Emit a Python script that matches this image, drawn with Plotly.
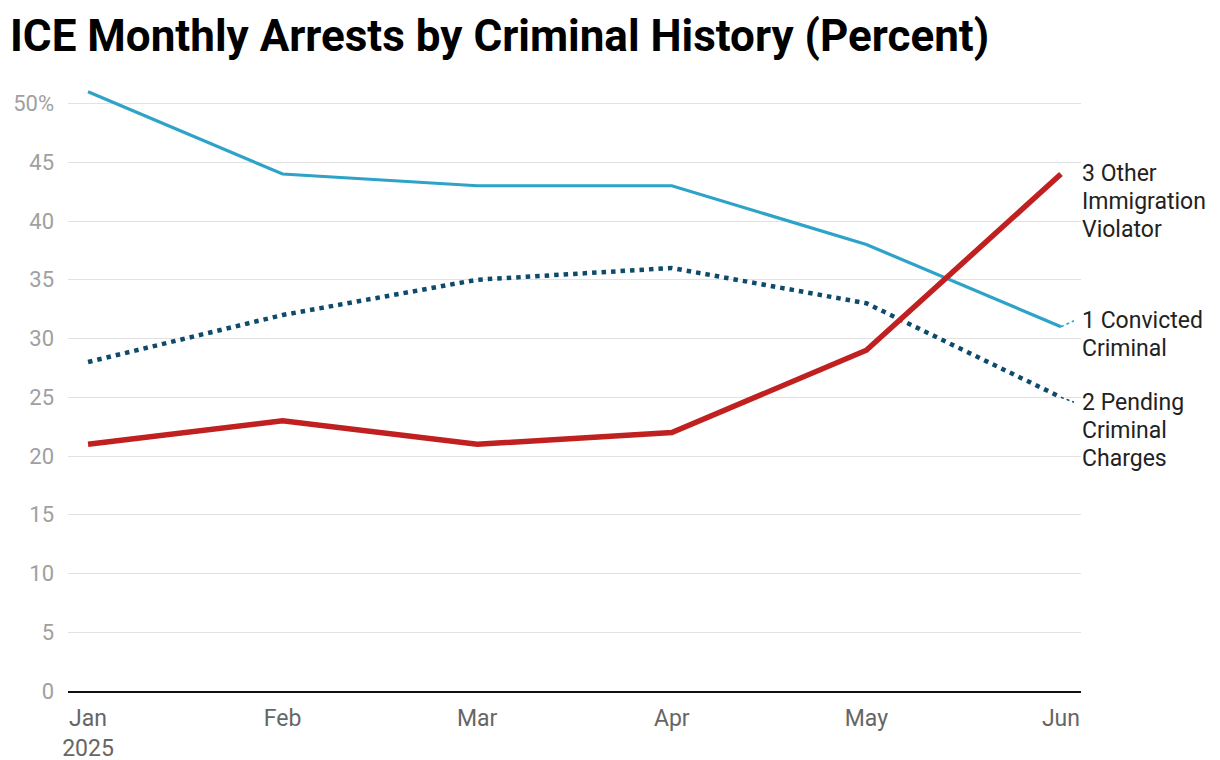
import plotly.graph_objects as go

months = ["Jan<br>2025", "Feb", "Mar", "Apr", "May", "Jun"]
convicted = [51, 44, 43, 43, 38, 31]
pending = [28, 32, 35, 36, 33, 25]
other = [21, 23, 21, 22, 29, 44]
y_ticks = [0, 5, 10, 15, 20, 25, 30, 35, 40, 45, 50]
y_tick_text = ["0", "5", "10", "15", "20", "25", "30", "35", "40", "45", "50%"]

series = [
    (["1 Convicted", "Criminal"], convicted, dict(color="#2ea3c8", width=3.2), 6),
    (["2 Pending", "Criminal", "Charges"], pending,
     dict(color="#0d4a6b", width=4.5, dash="4.5px,5px"), -5),
    (["3 Other", "Immigration", "Violator"], other, dict(color="#c0201f", width=5.5), 1),
]

x = list(range(len(months)))
fig = go.Figure()
PX_PER_UNIT = 611 / 52
PX_PER_X = 1013 / 5.206
for lines, vals, line, shift in series:
    fig.add_trace(go.Scatter(x=x, y=vals, mode="lines", line=line,
                             hoverinfo="skip", showlegend=False))
    for i, t in enumerate(lines):
        fig.add_annotation(x=x[-1], y=vals[-1], xref="x", yref="y", text=t,
                           showarrow=False, xanchor="left", yanchor="middle",
                           align="left", xshift=19, yshift=shift - 28 * i,
                           font=dict(family="Roboto", size=23, color="#222222"))
    if shift != 1:
        fig.add_shape(type="line", x0=x[-1], y0=vals[-1],
                      x1=x[-1] + 13 / PX_PER_X, y1=vals[-1] + shift / PX_PER_UNIT,
                      xref="x", yref="y",
                      line=dict(color=line["color"], width=1.5, dash="3px,3px"))

fig.update_layout(
    width=1212, height=752,
    margin=dict(l=60, r=139, t=72, b=69, pad=0),
    paper_bgcolor="white", plot_bgcolor="white",
    title=dict(text="<b>ICE Monthly Arrests by Criminal History (Percent)</b>",
               x=2 / 1212, xref="container", xanchor="left",
               y=1 - 28 / 752, yref="container", yanchor="middle",
               pad=dict(l=0, r=0, t=0, b=0),
               font=dict(family="Roboto", size=44, color="#000000")),
    xaxis=dict(range=[-0.103, 5.103], tickvals=x, ticktext=months, showgrid=False,
               zeroline=False, showline=True, linecolor="#111111", linewidth=2,
               ticks="", ticklabelstandoff=5,
               tickfont=dict(family="Roboto", size=23, color="#666666"),
               fixedrange=True, automargin=False),
    yaxis=dict(range=[0, 52], tickvals=y_ticks, ticktext=y_tick_text,
               showgrid=True, gridcolor="#e2e2e2", gridwidth=1, zeroline=False,
               ticks="", ticklabelstandoff=13,
               tickfont=dict(family="Roboto", size=22, color="#a0a0a0"),
               fixedrange=True, automargin=False),
)

fig.write_html("out.html")
